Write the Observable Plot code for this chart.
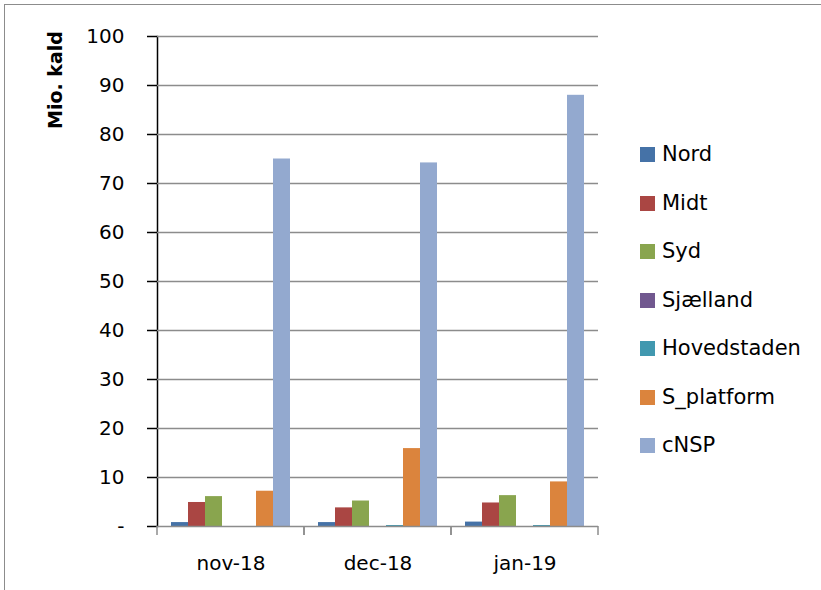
<!DOCTYPE html>
<html>
<head>
<meta charset="utf-8">
<script src="https://cdn.jsdelivr.net/npm/d3@7"></script>
<script src="https://cdn.jsdelivr.net/npm/@observablehq/plot@0.6"></script>
<style>
  html, body { margin: 0; padding: 0; background: #fff; }
  #wrap { position: relative; width: 821px; height: 590px; overflow: hidden; font-family: "DejaVu Sans", sans-serif; }
  #border { position: absolute; left: 4px; top: 4px; width: 830px; height: 600px; border: 1.5px solid #8c8c8c; box-sizing: border-box; }
  #ylabel { position: absolute; left: 55px; top: 80px; transform: translate(-50%, -50%) rotate(-90deg); font-weight: bold; font-size: 19px; white-space: nowrap; color: #000; }
  #legend { position: absolute; left: 640px; top: 141px; font-size: 21px; color: #000; }
  .item { height: 48.5px; display: flex; align-items: flex-start; line-height: 26px; }
  .sw { width: 15px; height: 15px; margin-top: 6px; margin-right: 7px; }
  svg { position: absolute; left: 0; top: 0; }
</style>
</head>
<body>
<div id="wrap">
  <div id="border"></div>
  <div id="ylabel">Mio. kald</div>
  <div id="legend"></div>
</div>
<script>
const months = ["nov-18", "dec-18", "jan-19"];
const series = ["Nord", "Midt", "Syd", "Sjælland", "Hovedstaden", "S_platform", "cNSP"];
const colors = ["#4572A7", "#AA4643", "#89A54E", "#71588F", "#4198AF", "#DB843D", "#93A9CF"];
const Nord = [0.8, 0.8, 0.9];
const Midt = [4.9, 3.8, 4.8];
const Syd = [6.1, 5.2, 6.3];
const Sjaelland = [0.0, 0.0, 0.0];
const Hovedstaden = [0.0, 0.2, 0.2];
const S_platform = [7.2, 15.9, 9.1];
const cNSP = [75.0, 74.2, 88.0];
const yTicks = [0, 10, 20, 30, 40, 50, 60, 70, 80, 90, 100];

const valuesBySeries = [Nord, Midt, Syd, Sjaelland, Hovedstaden, S_platform, cNSP];
const data = [];
months.forEach((m, i) => series.forEach((s, j) => data.push({month: m, series: s, value: valuesBySeries[j][i]})));

const grey = "#8c8c8c";
const chart = Plot.plot({
  width: 821,
  height: 590,
  marginLeft: 157,
  marginRight: 223,
  marginTop: 36,
  marginBottom: 64,
  style: {fontFamily: "DejaVu Sans, sans-serif", fontSize: "20px", color: "#000", background: "transparent"},
  fx: {domain: months, padding: 0, label: null, tickSize: 0, tickPadding: 29},
  x: {domain: series, paddingInner: 0, paddingOuter: 0.82, axis: null},
  y: {domain: [0, 100], ticks: yTicks, tickFormat: d => d === 0 ? "-" : d, tickSize: 10, tickPadding: 23, label: null, line: true},
  color: {domain: series, range: colors},
  marks: [
    Plot.ruleY(yTicks.filter(d => d > 0), {stroke: grey, strokeWidth: 1.5}),
    Plot.barY(data, {fx: "month", x: "series", y: "value", fill: "series"}),
    Plot.ruleY([0], {stroke: grey, strokeWidth: 1.5}),
    (index, scales, values, dims) => {
      const g = d3.create("svg:g").attr("stroke", grey).attr("stroke-width", 1.5);
      const yb = dims.height - dims.marginBottom;
      [dims.marginLeft, dims.width - dims.marginRight].forEach(x => {
        g.append("line").attr("x1", x).attr("x2", x).attr("y1", yb).attr("y2", yb + 9);
      });
      return g.node();
    }
  ]
});
d3.select(chart).selectAll("[aria-label='y-axis tick'], [aria-label='y-axis line'], [aria-label='frame']").attr("stroke", grey).attr("stroke-width", 1.5).attr("stroke-opacity", 1);
document.getElementById("wrap").appendChild(chart);

const legend = d3.select("#legend");
series.forEach((s, i) => {
  const it = legend.append("div").attr("class", "item");
  it.append("div").attr("class", "sw").style("background", colors[i]);
  it.append("span").text(s);
});
</script>
</body>
</html>
